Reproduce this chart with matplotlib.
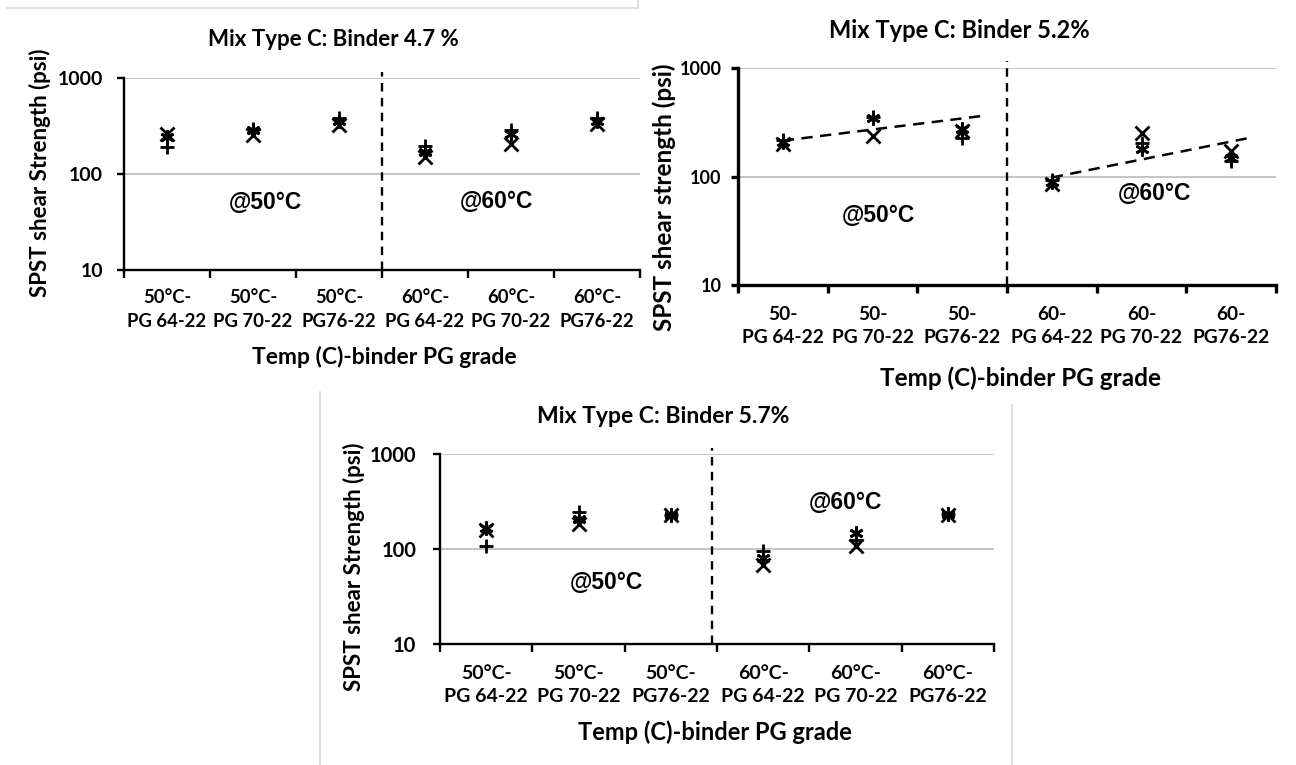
import numpy as np
import matplotlib
matplotlib.use("Agg")
import matplotlib.pyplot as plt
from matplotlib.lines import Line2D

W, H = 1296, 765

# categories (1..6)
labels_c = ["50°C-\nPG 64-22", "50°C-\nPG 70-22", "50°C-\nPG76-22",
            "60°C-\nPG 64-22", "60°C-\nPG 70-22", "60°C-\nPG76-22"]
labels_short = ["50-\nPG 64-22", "50-\nPG 70-22", "50-\nPG76-22",
                "60-\nPG 64-22", "60-\nPG 70-22", "60-\nPG76-22"]
cats = np.arange(1, 7)

# replicate shear strengths (psi), binder 4.7 %
b47_x = [258, 255, 325, 152, 205, 330]
b47_plus = [190, 295, 385, 195, 290, 385]
b47_ast = [245, 288, 360, 170, 262, 360]

# binder 5.2 %
b52_x = [200, 238, 262, 86, 250, 172]
b52_plus = [218, 350, 225, 92, 205, 140]
b52_ast = [208, 345, 275, 89, 180, 147]
# exponential trend values at first/last group of each temperature
trend52_50 = [214, 343]
trend52_60 = [98, 210]

# binder 5.7 %
b57_x = [160, 185, 226, 68, 108, 230]
b57_plus = [107, 245, 230, 96, 125, 232]
b57_ast = [168, 205, 228, 80, 148, 232]

FONT = "Lato"
ARIAL = "Liberation Sans"

plt.rcParams["font.family"] = [FONT, "DejaVu Sans"]

fig = plt.figure(figsize=(W / 100, H / 100), dpi=100)


def px_axes(left, right, top, bottom):
    return fig.add_axes([left / W, 1 - bottom / H, (right - left) / W, (bottom - top) / H])


def ftext(x, y, s, **kw):
    fig.text(x / W, 1 - y / H, s, **kw)


def style_panel(ax, xlabels, ysize, xsize, spine_w, ypad, xpad):
    ax.set_yscale("log")
    ax.set_ylim(10, 1000)
    ax.set_xlim(0.5, 6.5)
    ax.yaxis.grid(True, color="#bfbfbf", lw=1.3)
    ax.set_axisbelow(True)
    for s in ["top", "right"]:
        ax.spines[s].set_visible(False)
    for s in ["left", "bottom"]:
        ax.spines[s].set_linewidth(spine_w)
    ax.set_yticks([10, 100, 1000])
    ax.set_yticklabels(["10", "100", "1000"], fontsize=ysize, fontweight="bold")
    ax.yaxis.set_minor_locator(matplotlib.ticker.NullLocator())
    ax.tick_params(axis="y", length=5, width=spine_w, pad=ypad)
    ax.set_xticks(cats)
    ax.set_xticklabels(xlabels, fontsize=xsize, fontweight="bold", linespacing=1.45)
    ax.set_xticks(np.arange(0.5, 7, 1), minor=True)
    ax.tick_params(axis="x", which="major", length=0, pad=xpad)
    ax.tick_params(axis="x", which="minor", length=6, width=spine_w)


def draw_reps(ax, xs, pluses, asts):
    kw = dict(ls="none", color="black", ms=10, mew=2)
    ax.plot(cats, xs, marker="x", **kw)
    ax.plot(cats, pluses, marker="+", **kw)
    ax.plot(cats, asts, marker=(6, 2, 0), **kw)


def divider(ax, xpos):
    ax.axvline(xpos, ymin=0, ymax=1.03, color="black", lw=1.7,
               ls=(0, (3.6, 2.7)), clip_on=False)


# ---- panel 1: binder 4.7 %
ax1 = px_axes(124, 640, 78, 270)
style_panel(ax1, labels_c, 14, 13.3, 1.7, 10, 14)
draw_reps(ax1, b47_x, b47_plus, b47_ast)
divider(ax1, 3.5)
ax1.text(2.14, 51, "@50°C", fontsize=16.5, fontweight="bold", family=ARIAL, ha="center", va="center")
ax1.text(4.83, 52, "@60°C", fontsize=16.5, fontweight="bold", family=ARIAL, ha="center", va="center")
ftext(333, 39, "Mix Type C: Binder 4.7 %", fontsize=16, fontweight="bold", ha="center", va="center")
ftext(40, 173, "SPST shear Strength (psi)", fontsize=16, fontweight="bold",
      rotation=90, ha="center", va="center")
ftext(384, 357, "Temp (C)-binder PG grade", fontsize=16.5, fontweight="bold", ha="center", va="center")

# ---- panel 2: binder 5.2 %
ax2 = px_axes(738, 1276, 68, 285)
style_panel(ax2, labels_short, 13, 13.8, 2.4, 7, 15)
draw_reps(ax2, b52_x, b52_plus, b52_ast)
divider(ax2, 3.5)
for (g0, g1), tv in [((1, 3), trend52_50), ((4, 6), trend52_60)]:
    k, b = np.polyfit([g0, g1], np.log10(tv), 1)
    tx = np.array([g0, g1 + 0.2])
    ax2.plot(tx, 10 ** (k * tx + b), color="black", lw=1.8, ls=(0, (4.5, 3)))
ax2.text(2.07, 44, "@50°C", fontsize=16.5, fontweight="bold", family=ARIAL, ha="center", va="center")
ax2.text(5.14, 70, "@60°C", fontsize=16.5, fontweight="bold", family=ARIAL, ha="center", va="center")
ftext(959, 30, "Mix Type C: Binder 5.2%", fontsize=17, fontweight="bold", ha="center", va="center")
ftext(664, 197, "SPST shear strength (psi)", fontsize=17.5, fontweight="bold",
      rotation=90, ha="center", va="center")
ftext(1020, 378, "Temp (C)-binder PG grade", fontsize=17.5, fontweight="bold", ha="center", va="center")

# ---- panel 3: binder 5.7 %
ax3 = px_axes(440, 994, 454, 644)
style_panel(ax3, labels_c, 14.5, 14, 1.7, 12, 15)
draw_reps(ax3, b57_x, b57_plus, b57_ast)
divider(ax3, 3.45)
ax3.text(2.30, 44, "@50°C", fontsize=16.5, fontweight="bold", family=ARIAL, ha="center", va="center")
ax3.text(4.89, 305, "@60°C", fontsize=16.5, fontweight="bold", family=ARIAL, ha="center", va="center")
ftext(663, 417, "Mix Type C: Binder 5.7%", fontsize=16.5, fontweight="bold", ha="center", va="center")
ftext(354, 567, "SPST shear Strength (psi)", fontsize=16, fontweight="bold",
      rotation=90, ha="center", va="center")
ftext(715, 732, "Temp (C)-binder PG grade", fontsize=17, fontweight="bold", ha="center", va="center")

# thin frame edges left over from the composed figure
frame = "#d9d9d9"
for xs, ys in [([7, 638], [8, 8]), ([638, 638], [0, 8]),
               ([320, 320], [392, 765]), ([1012, 1012], [405, 765])]:
    fig.add_artist(Line2D([x / W for x in xs], [1 - y / H for y in ys],
                          color=frame, lw=1.2))

fig.savefig("out.png", dpi=100)
